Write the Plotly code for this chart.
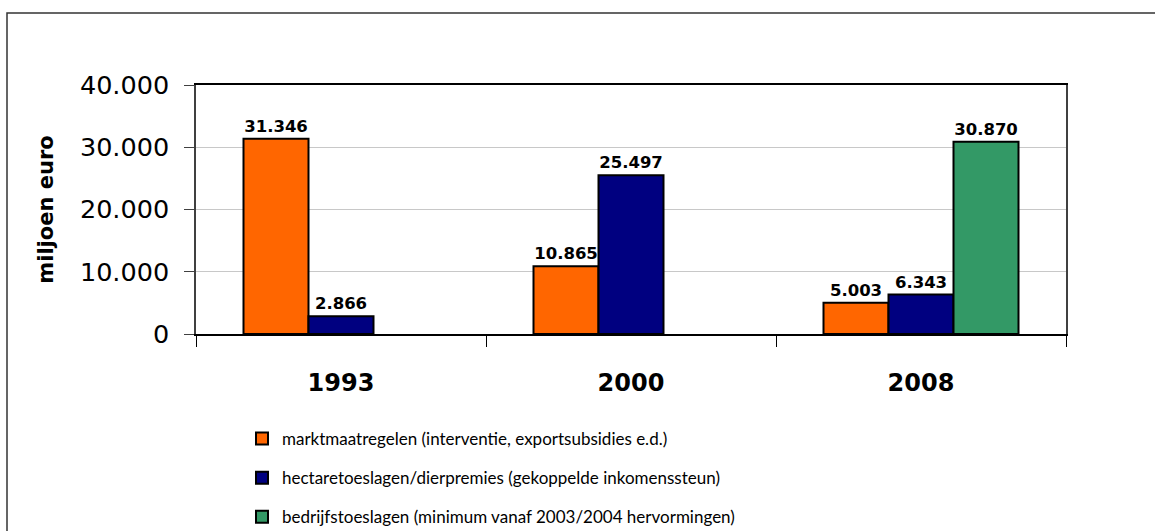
import plotly.graph_objects as go

years = ["1993", "2000", "2008"]
markt = [31346, 10865, 5003]
hectare = [2866, 25497, 6343]
bedrijf = [None, None, 30870]
series_names = [
    "marktmaatregelen (interventie, exportsubsidies e.d.)",
    "hectaretoeslagen/dierpremies (gekoppelde inkomenssteun)",
    "bedrijfstoeslagen (minimum vanaf 2003/2004 hervormingen)",
]
colors = ["#FF6600", "#000080", "#339966"]
ytick_vals = [0, 10000, 20000, 30000, 40000]
ytick_text = ["0", "10.000", "20.000", "30.000", "40.000"]


def fmt(v):
    return f"{v:,}".replace(",", ".") if v is not None else ""


fig = go.Figure()
for i, (vals, name) in enumerate(zip([markt, hectare, bedrijf], series_names)):
    fig.add_trace(go.Bar(
        x=years, y=vals, name=name,
        marker=dict(color=colors[i], line=dict(color="black", width=2)),
        text=[fmt(v) for v in vals], textposition="outside",
        textfont=dict(family="DejaVu Sans", size=16.5, color="black", weight="bold"),
        cliponaxis=False, legendgroup=str(i),
    ))

L, R, T, B = 196, 89, 85, 197
W, H = 1155 - L - R, 531 - T - B

fig.add_shape(type="rect", xref="paper", yref="paper",
              x0=(7 - L) / W, x1=(1170 - L) / W,
              y0=(334 - 545) / H, y1=(334 - 13) / H,
              line=dict(color="#333333", width=1.5), layer="below")

fig.update_layout(
    width=1155, height=531,
    margin=dict(l=L, r=R, t=T, b=B, autoexpand=False),
    paper_bgcolor="white", plot_bgcolor="white",
    barmode="group", bargap=0.3276, bargroupgap=0,
    font=dict(family="DejaVu Sans", color="black"),
    showlegend=True,
    legend=dict(x=(242 - L) / W, y=(334 - 421) / H, xanchor="left", yanchor="top",
                traceorder="grouped", tracegroupgap=14,
                font=dict(family="Lato", size=17, color="black"),
                bgcolor="rgba(0,0,0,0)"),
)
fig.update_xaxes(
    type="category", showline=True, linecolor="black", linewidth=1.5,
    mirror=True, ticks="outside", ticklen=11, tickcolor="black", tickwidth=1,
    tickson="boundaries",
    tickfont=dict(family="DejaVu Sans", size=24, color="black", weight="bold"),
    ticklabelstandoff=26,
)
fig.update_yaxes(
    range=[0, 40000], tickvals=ytick_vals, ticktext=ytick_text,
    showgrid=True, gridcolor="#C8C8C8", gridwidth=1,
    showline=True, linecolor="#404040", linewidth=1.5, mirror=True,
    ticks="outside", ticklen=10, tickcolor="#404040",
    tickfont=dict(family="DejaVu Sans", size=25.5, color="black"),
    ticklabelstandoff=10,
    title=dict(text="miljoen euro", font=dict(family="DejaVu Sans", size=21, weight="bold"),
               standoff=21),
    zeroline=False,
)
fig.write_html("out.html", config={"displayModeBar": False},
               post_script="document.body.style.margin='0';document.body.style.overflow='hidden';")
